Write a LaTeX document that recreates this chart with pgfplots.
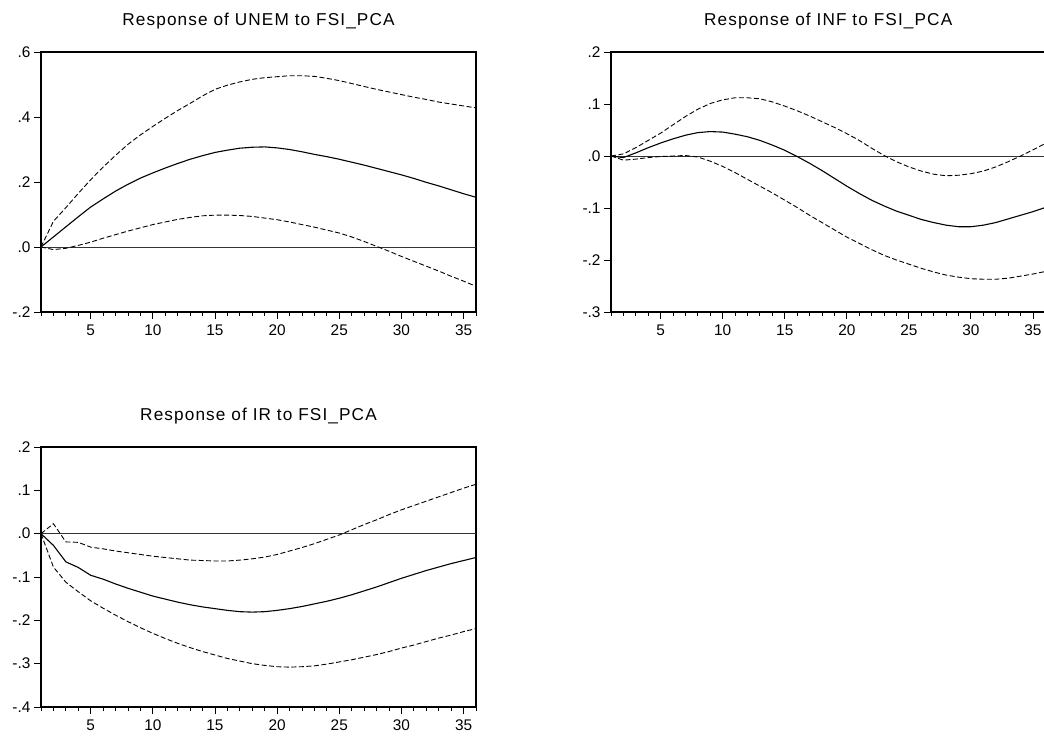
\documentclass[border=0pt]{standalone}
\usepackage{fontspec}
\setmainfont{Liberation Sans}
\newfontfamily\titlefont{Liberation Sans}[LetterSpace=6.5]
\usepackage{pgfplots}
\usepackage{pgfplotstable}
\pgfplotsset{compat=1.18}

\pgfplotstableread{
t unem unemU unemL inf infU infL ir irU irL
1 0 0 0 0 0 0 0 0 0
2 0.031 0.079 -0.008 -0.003 0.004 -0.008 -0.027 0.023 -0.077
3 0.062 0.121 -0.004 0.006 0.016 -0.006 -0.065 -0.019 -0.112
4 0.093 0.165 0.005 0.016 0.030 -0.003 -0.078 -0.020 -0.134
5 0.123 0.207 0.015 0.025 0.044 -0.001 -0.096 -0.031 -0.155
6 0.148 0.246 0.027 0.033 0.060 0.000 -0.105 -0.035 -0.172
7 0.172 0.282 0.038 0.040 0.076 0.001 -0.116 -0.040 -0.188
8 0.193 0.316 0.049 0.045 0.090 -0.002 -0.126 -0.044 -0.203
9 0.212 0.345 0.059 0.047 0.101 -0.010 -0.135 -0.048 -0.217
10 0.228 0.371 0.069 0.046 0.108 -0.020 -0.144 -0.052 -0.230
11 0.243 0.396 0.077 0.042 0.112 -0.032 -0.151 -0.055 -0.242
12 0.257 0.420 0.085 0.037 0.112 -0.045 -0.158 -0.058 -0.253
13 0.270 0.442 0.091 0.030 0.110 -0.058 -0.164 -0.061 -0.263
14 0.281 0.465 0.096 0.021 0.104 -0.071 -0.169 -0.062 -0.272
15 0.291 0.485 0.098 0.011 0.096 -0.085 -0.173 -0.063 -0.280
16 0.298 0.498 0.098 -0.001 0.087 -0.099 -0.177 -0.063 -0.288
17 0.304 0.508 0.097 -0.014 0.077 -0.114 -0.180 -0.061 -0.294
18 0.307 0.516 0.094 -0.028 0.066 -0.128 -0.181 -0.058 -0.300
19 0.308 0.521 0.089 -0.043 0.055 -0.142 -0.180 -0.054 -0.304
20 0.305 0.524 0.084 -0.058 0.043 -0.156 -0.177 -0.048 -0.307
21 0.300 0.527 0.077 -0.072 0.030 -0.168 -0.173 -0.040 -0.308
22 0.293 0.527 0.069 -0.085 0.015 -0.180 -0.168 -0.032 -0.307
23 0.285 0.525 0.061 -0.096 0.001 -0.191 -0.162 -0.023 -0.305
24 0.278 0.519 0.052 -0.106 -0.011 -0.200 -0.156 -0.013 -0.301
25 0.270 0.512 0.043 -0.114 -0.021 -0.208 -0.149 -0.003 -0.296
26 0.261 0.503 0.031 -0.122 -0.029 -0.216 -0.141 0.009 -0.291
27 0.252 0.494 0.017 -0.128 -0.035 -0.223 -0.132 0.021 -0.285
28 0.242 0.485 0.002 -0.133 -0.038 -0.229 -0.123 0.032 -0.279
29 0.232 0.477 -0.013 -0.136 -0.037 -0.233 -0.113 0.044 -0.272
30 0.222 0.469 -0.029 -0.136 -0.034 -0.236 -0.103 0.055 -0.264
31 0.211 0.461 -0.044 -0.133 -0.029 -0.237 -0.094 0.065 -0.257
32 0.199 0.454 -0.059 -0.128 -0.021 -0.237 -0.085 0.075 -0.249
33 0.188 0.446 -0.074 -0.121 -0.011 -0.235 -0.077 0.085 -0.241
34 0.176 0.440 -0.090 -0.114 0.000 -0.231 -0.069 0.095 -0.234
35 0.164 0.434 -0.105 -0.107 0.012 -0.227 -0.062 0.105 -0.226
36 0.153 0.428 -0.121 -0.099 0.024 -0.222 -0.055 0.114 -0.219
}\irf

\pgfplotsset{
  ev/.style={
    scale only axis, height=260pt,
    xmin=1, xmax=36, enlargelimits=false,
    axis line style={line width=1.3pt},
    tick align=outside,
    xtick={5,10,...,35}, minor xtick={1,...,36},
    major tick length=7pt, minor tick length=4pt,
    xtick pos=bottom, ytick pos=left,
    every tick/.style={black, line width=0.9pt},
    every minor tick/.style={black, line width=0.9pt},
    tick label style={font=\fontsize{15.4}{18}\selectfont},
    xticklabel style={yshift=-2pt},
    title style={font=\titlefont\fontsize{17.2}{21}\selectfont, anchor=center, yshift=25pt},
    /pgf/number format/assume math mode=true,
  },
  irf/.style={black, line width=1.1pt},
  band/.style={black, line width=0.9pt, dash pattern=on 5pt off 2.5pt},
  zero/.style={black!80, line width=0.9pt},
}

\begin{document}
\begin{tikzpicture}
\useasboundingbox (0,0) rectangle (1044pt,-736pt);

\begin{axis}[ev, at={(41pt,-312pt)}, anchor=south west, width=435pt,
  ymin=-0.2, ymax=0.6, ytick={-0.2,0,0.2,0.4,0.6}, yticklabels={-.2,.0,.2,.4,.6},
  title={Response of UNEM to FSI\_PCA}]
  \addplot[zero] coordinates {(1,0) (36,0)};
  \addplot[irf] table[x=t,y=unem]{\irf};
  \addplot[band] table[x=t,y=unemU]{\irf};
  \addplot[band] table[x=t,y=unemL]{\irf};
\end{axis}

\begin{axis}[ev, at={(611pt,-312pt)}, anchor=south west, width=434.4pt,
  ymin=-0.3, ymax=0.2, ytick={-0.3,-0.2,-0.1,0,0.1,0.2}, yticklabels={-.3,-.2,-.1,.0,.1,.2},
  title={Response of INF to FSI\_PCA}]
  \addplot[zero] coordinates {(1,0) (36,0)};
  \addplot[irf] table[x=t,y=inf]{\irf};
  \addplot[band] table[x=t,y=infU]{\irf};
  \addplot[band] table[x=t,y=infL]{\irf};
\end{axis}

\begin{axis}[ev, at={(41pt,-707pt)}, anchor=south west, width=435pt,
  ymin=-0.4, ymax=0.2, ytick={-0.4,-0.3,-0.2,-0.1,0,0.1,0.2}, yticklabels={-.4,-.3,-.2,-.1,.0,.1,.2},
  title={Response of IR to FSI\_PCA}]
  \addplot[zero] coordinates {(1,0) (36,0)};
  \addplot[irf] table[x=t,y=ir]{\irf};
  \addplot[band] table[x=t,y=irU]{\irf};
  \addplot[band] table[x=t,y=irL]{\irf};
\end{axis}
\end{tikzpicture}
\end{document}
